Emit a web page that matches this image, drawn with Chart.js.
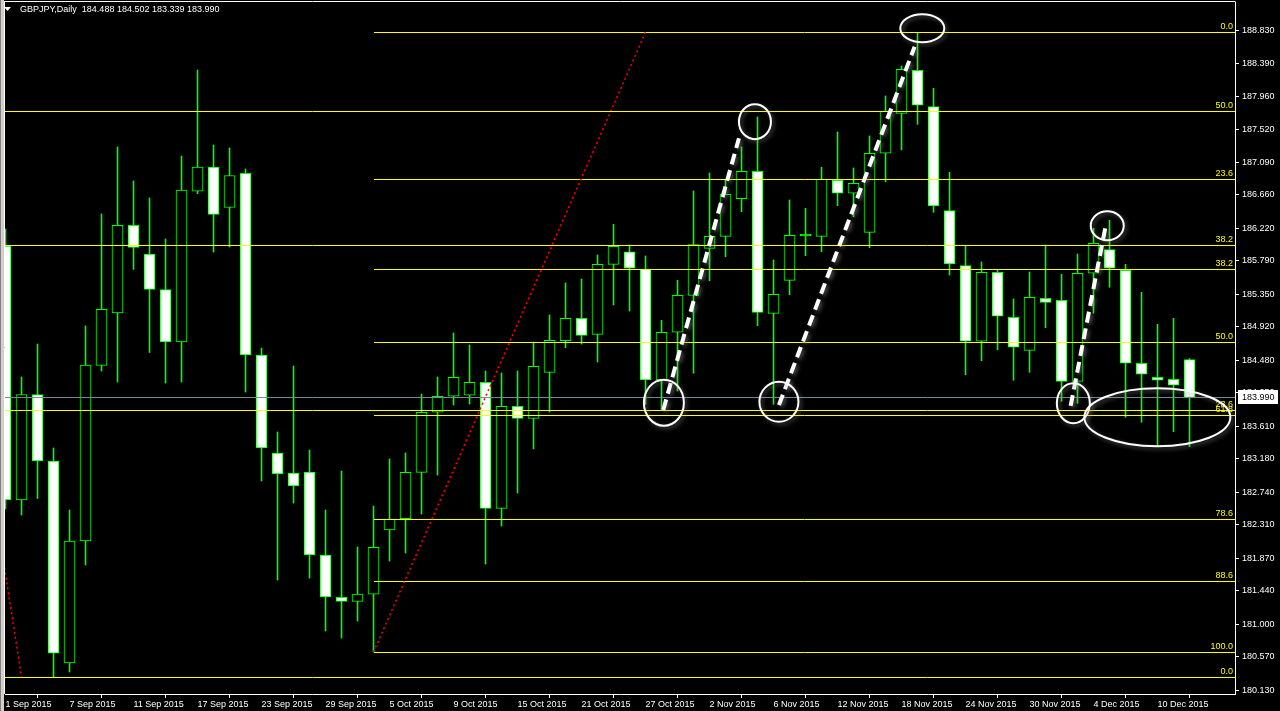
<!DOCTYPE html>
<html>
<head>
<meta charset="utf-8">
<title>GBPJPY Daily</title>
<script src="https://cdn.jsdelivr.net/npm/chart.js@4.4.1/dist/chart.umd.min.js"></script>
<style>
  html, body { margin: 0; padding: 0; background: #000; }
  #wrap { width: 1280px; height: 711px; position: relative; }
</style>
</head>
<body>
<div id="wrap"><canvas id="chart" width="1280" height="711"></canvas></div>
<script>
const symbolTitle = "GBPJPY,Daily";

// daily bars, 1 Sep 2015 .. 14 Dec 2015
const openPrices = [
  185.986, 182.636, 184.027, 183.150, 180.487, 182.095, 184.410, 185.102, 186.257, 185.880,
  185.412, 184.720, 186.707, 187.025, 186.493, 186.943, 184.548, 183.256, 182.992, 183.005,
  181.911, 181.353, 181.299, 181.396, 182.240, 182.389, 183.001, 183.793, 184.004, 184.017,
  184.188, 182.526, 183.872, 183.713, 184.320, 184.737, 185.032, 184.821, 185.744, 185.910,
  185.682, 184.218, 184.848, 185.335, 185.955, 186.113, 186.609, 186.971, 185.098, 185.533,
  186.120, 186.113, 186.852, 186.681, 186.166, 187.208, 187.735, 188.303, 187.823, 186.451,
  185.726, 184.729, 185.639, 185.045, 184.610, 185.296, 185.270, 184.201, 185.626, 185.937,
  185.665, 184.439, 184.254, 184.228, 184.488
];
const highPrices = [
  186.210, 184.258, 184.693, 183.322, 182.504, 184.931, 186.408, 187.291, 186.843, 186.619,
  186.078, 187.172, 188.306, 187.317, 187.278, 187.001, 184.640, 183.533, 184.403, 183.295,
  182.504, 183.018, 182.016, 182.557, 183.177, 183.256, 184.034, 184.258, 184.838, 184.680,
  184.337, 184.311, 184.337, 184.720, 185.076, 185.498, 185.550, 185.867, 186.272, 185.999,
  185.854, 185.006, 185.533, 186.711, 186.948, 186.856, 187.291, 187.687, 185.801, 186.592,
  186.483, 187.023, 187.489, 187.014, 187.436, 187.964, 188.359, 188.804, 188.065, 186.957,
  185.986, 185.775, 185.669, 185.287, 185.643, 185.999, 185.612, 185.880, 186.219, 186.324,
  185.744, 185.375, 184.953, 185.032, 184.502
];
const lowPrices = [
  182.517, 182.438, 182.656, 180.295, 180.368, 181.779, 184.337, 184.192, 185.676, 184.581,
  184.179, 184.192, 186.675, 185.906, 185.972, 184.060, 182.887, 181.581, 182.596, 181.607,
  180.909, 180.816, 181.040, 180.632, 181.831, 181.937, 182.451, 182.966, 183.889, 183.902,
  181.792, 182.293, 182.728, 183.309, 183.796, 184.644, 184.693, 184.456, 185.208, 185.128,
  183.898, 183.832, 184.073, 184.307, 185.528, 185.844, 186.438, 184.935, 183.898, 185.343,
  185.858, 185.910, 186.517, 186.372, 185.963, 186.833, 187.252, 187.590, 186.430, 185.603,
  184.288, 184.473, 184.618, 184.215, 184.320, 184.908, 183.938, 183.911, 185.098, 185.441,
  183.727, 183.661, 183.348, 183.537, 183.339
];
const closePrices = [
  182.636, 184.027, 183.150, 180.618, 182.095, 184.416, 185.150, 186.257, 185.966, 185.412,
  184.720, 186.724, 187.025, 186.402, 186.915, 184.548, 183.322, 182.979, 182.821, 181.911,
  181.357, 181.299, 181.396, 182.011, 182.385, 183.001, 183.793, 184.004, 184.254, 184.188,
  182.526, 183.872, 183.713, 184.399, 184.742, 185.032, 184.808, 185.744, 185.982, 185.692,
  184.218, 184.848, 185.335, 186.003, 186.113, 186.667, 186.971, 185.111, 185.349, 186.127,
  186.140, 186.865, 186.681, 186.812, 187.208, 187.766, 188.316, 187.841, 186.513, 185.748,
  184.729, 185.639, 185.059, 184.650, 185.309, 185.243, 184.201, 185.626, 186.021, 185.692,
  184.439, 184.294, 184.215, 184.149, 183.990
];

// one date label every 4 bars
const dateLabels = [
  "1 Sep 2015", "7 Sep 2015", "11 Sep 2015", "17 Sep 2015", "23 Sep 2015", "29 Sep 2015",
  "5 Oct 2015", "9 Oct 2015", "15 Oct 2015", "21 Oct 2015", "27 Oct 2015", "2 Nov 2015",
  "6 Nov 2015", "12 Nov 2015", "18 Nov 2015", "24 Nov 2015", "30 Nov 2015", "4 Dec 2015",
  "10 Dec 2015"
];
const priceTicks = [
  188.830, 188.390, 187.960, 187.520, 187.090, 186.660, 186.220, 185.790, 185.350, 184.920,
  184.480, 184.050, 183.610, 183.180, 182.740, 182.310, 181.870, 181.440, 181.000, 180.570,
  180.130
];
const lastPrice = 183.990;

// fibonacci objects: [bar1, price1, bar2, price2]
const fibLevels = [0, 23.6, 38.2, 50, 61.8, 78.6, 88.6, 100];
const fibA = [23, 180.632, 40, 188.804];
const fibB = [-10, 195.23, 1, 180.30];

// hand-drawn marks: dashed segments [bar1, price1, bar2, price2]
const dashedMarks = [
  [41.11, 183.823, 45.84, 187.406],
  [48.34, 183.889, 56.82, 188.614],
  [66.57, 183.876, 68.80, 186.293]
];
// ellipses: [bar, price, rx px, ry px]
const ellipseMarks = [
  [46.84, 187.625, 16, 17.5],
  [41.15, 183.919, 20, 23],
  [48.34, 183.932, 19.5, 20],
  [57.30, 188.856, 22, 14],
  [68.86, 186.253, 16.5, 14.5],
  [66.74, 183.911, 16.5, 20],
  [71.99, 183.727, 73, 29]
];

const LIME = "#00ff00";
const FONT = "'Liberation Sans', Arial, sans-serif";

const wickData = lowPrices.map((l, i) => ({ x: i, y: [l, highPrices[i]] }));
const bodyData = openPrices.map((o, i) => ({ x: i, y: [o, closePrices[i]] }));
const bodyColors = openPrices.map((o, i) => {
  const c = closePrices[i];
  if (Math.abs(c - o) < 0.03) return LIME;
  return c < o ? "#ffffff" : "#000000";
});

function fibPrice(fib, level) {
  return fib[3] + (fib[1] - fib[3]) * level / 100;
}

const overlayPlugin = {
  id: "overlay",
  beforeDraw(chart) {
    const ctx = chart.ctx;
    ctx.save();
    ctx.fillStyle = "#000";
    ctx.fillRect(0, 0, chart.width, chart.height);
    ctx.restore();
  },
  afterDatasetsDraw(chart) {
    const { ctx, chartArea } = chart;
    const xs = chart.scales.x, ys = chart.scales.y;
    const px = v => xs.getPixelForValue(v);
    const py = v => ys.getPixelForValue(v);

    ctx.save();
    ctx.beginPath();
    ctx.rect(chartArea.left, chartArea.top, chartArea.right - chartArea.left, chartArea.bottom - chartArea.top);
    ctx.clip();

    // bid line
    ctx.strokeStyle = "#778899";
    ctx.lineWidth = 1;
    ctx.beginPath();
    const by = Math.round(py(lastPrice)) + 0.5;
    ctx.moveTo(chartArea.left, by);
    ctx.lineTo(chartArea.right, by);
    ctx.stroke();

    // fibonacci levels + trendline
    ctx.font = "9px " + FONT;
    ctx.textAlign = "right";
    ctx.textBaseline = "bottom";
    [fibA, fibB].forEach(fib => {
      const x0 = Math.max(Math.round(px(fib[0])), chartArea.left);
      fibLevels.forEach(lv => {
        const y = Math.round(py(fibPrice(fib, lv))) + 0.5;
        if (y < chartArea.top || y > chartArea.bottom) return;
        ctx.strokeStyle = "#ffff00";
        ctx.lineWidth = 1;
        ctx.beginPath();
        ctx.moveTo(x0, y);
        ctx.lineTo(chartArea.right, y);
        ctx.stroke();
        ctx.fillStyle = "#ffff00";
        ctx.fillText(lv.toFixed(1), chartArea.right - 2, y - 1);
      });
      ctx.strokeStyle = "#ff0000";
      ctx.lineWidth = 1.5;
      ctx.setLineDash([2, 3]);
      ctx.beginPath();
      ctx.moveTo(px(fib[0]), py(fib[1]));
      ctx.lineTo(px(fib[2]), py(fib[3]));
      ctx.stroke();
      ctx.setLineDash([]);
    });

    // annotations
    ctx.shadowColor = "rgba(140,140,140,0.6)";
    ctx.shadowBlur = 4;
    ctx.shadowOffsetX = 2;
    ctx.shadowOffsetY = 2;
    ctx.strokeStyle = "#ffffff";
    ctx.lineWidth = 4;
    ctx.setLineDash([11, 6]);
    dashedMarks.forEach(s => {
      ctx.beginPath();
      ctx.moveTo(px(s[0]), py(s[1]));
      ctx.lineTo(px(s[2]), py(s[3]));
      ctx.stroke();
    });
    ctx.setLineDash([]);
    ctx.lineWidth = 2;
    ellipseMarks.forEach(e => {
      ctx.beginPath();
      ctx.ellipse(px(e[0]), py(e[1]), e[2], e[3], 0, 0, Math.PI * 2);
      ctx.stroke();
    });
    ctx.restore();
  },
  afterDraw(chart) {
    const { ctx, chartArea } = chart;
    const ys = chart.scales.y;
    ctx.save();
    // window frame
    ctx.fillStyle = "#808080";
    ctx.fillRect(0, 0, 1, chart.height);
    ctx.fillStyle = "#d4d0c8";
    ctx.fillRect(1, 0, 3, chart.height);
    ctx.strokeStyle = "#ffffff";
    ctx.lineWidth = 1;
    ctx.beginPath();
    ctx.moveTo(chartArea.left - 0.5, chartArea.top - 1);
    ctx.lineTo(chartArea.left - 0.5, chartArea.bottom);
    ctx.moveTo(chartArea.left, chartArea.top - 0.5);
    ctx.lineTo(chartArea.right + 0.5, chartArea.top - 0.5);
    ctx.stroke();

    // title
    ctx.fillStyle = "#ffffff";
    ctx.beginPath();
    ctx.moveTo(4, 7);
    ctx.lineTo(11, 7);
    ctx.lineTo(7.5, 11);
    ctx.closePath();
    ctx.fill();
    const n = closePrices.length - 1;
    const vals = [openPrices[n], highPrices[n], lowPrices[n], closePrices[n]].map(v => v.toFixed(3)).join(" ");
    ctx.font = "9px " + FONT;
    ctx.textAlign = "left";
    ctx.textBaseline = "alphabetic";
    ctx.fillText(symbolTitle + "  " + vals, 20, 12);

    // current price tag
    const y = Math.round(ys.getPixelForValue(lastPrice));
    ctx.fillStyle = "#ffffff";
    ctx.fillRect(chartArea.right + 3, y - 7, 40, 14);
    ctx.fillStyle = "#000000";
    ctx.textBaseline = "middle";
    ctx.fillText(lastPrice.toFixed(3), chartArea.right + 7, y + 0.5);
    ctx.restore();
  }
};

Chart.defaults.font.family = FONT;
Chart.defaults.font.size = 9;
Chart.defaults.color = "#ffffff";

new Chart(document.getElementById("chart"), {
  type: "bar",
  data: {
    datasets: [
      {
        label: "wick",
        data: wickData,
        backgroundColor: LIME,
        borderWidth: 0,
        barThickness: 1,
        grouped: false,
        order: 2
      },
      {
        label: "body",
        data: bodyData,
        backgroundColor: bodyColors,
        borderColor: LIME,
        borderWidth: 1,
        borderSkipped: false,
        barThickness: 11,
        grouped: false,
        order: 1
      }
    ]
  },
  options: {
    responsive: false,
    animation: false,
    devicePixelRatio: 1,
    layout: { padding: { left: 5, top: 2, right: 0, bottom: 0 } },
    plugins: {
      legend: { display: false },
      tooltip: { enabled: false },
      title: { display: false }
    },
    scales: {
      x: {
        type: "linear",
        min: -0.03125,
        max: 76.84375,
        offset: false,
        position: "bottom",
        grid: { drawOnChartArea: false, color: "#ffffff", tickColor: "#ffffff", tickLength: 4 },
        border: { display: true, color: "#ffffff", width: 1 },
        ticks: {
          autoSkip: false,
          maxRotation: 0,
          minRotation: 0,
          align: "start",
          padding: 1,
          color: "#ffffff",
          font: { size: 9 },
          callback: (v) => dateLabels[Math.round(v / 4)] || ""
        },
        afterBuildTicks: (scale) => {
          scale.ticks = dateLabels.map((_, i) => ({ value: i * 4 }));
        },
        afterFit: (scale) => {
          scale.height = 17;
          scale.paddingLeft = 0;
          scale.paddingRight = 0;
        }
      },
      y: {
        position: "right",
        min: 180.078,
        max: 189.203,
        grid: { drawOnChartArea: false, color: "#ffffff", tickColor: "#ffffff", tickLength: 4 },
        border: { display: true, color: "#ffffff", width: 1 },
        ticks: {
          padding: 3,
          color: "#ffffff",
          font: { size: 9 },
          callback: (v) => v.toFixed(3)
        },
        afterBuildTicks: (scale) => {
          scale.ticks = priceTicks.map(v => ({ value: v }));
        },
        afterFit: (scale) => {
          scale.width = 45;
          scale.paddingTop = 0;
          scale.paddingBottom = 0;
        }
      }
    }
  },
  plugins: [overlayPlugin]
});
</script>
</body>
</html>
